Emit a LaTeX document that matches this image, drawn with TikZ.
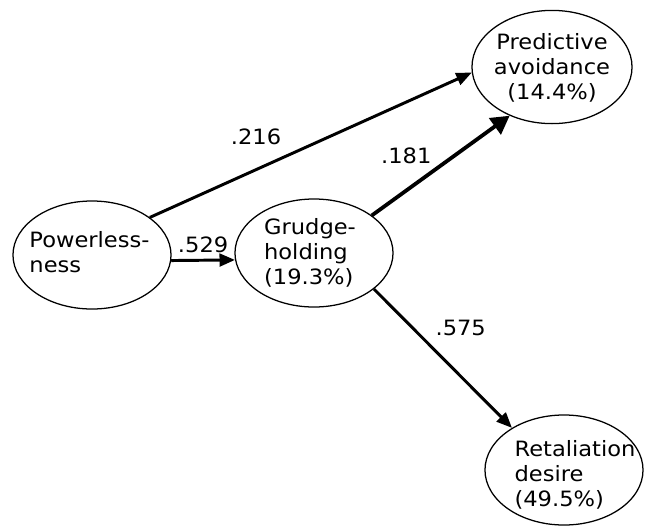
\documentclass[tikz,border=0pt]{standalone}
\usepackage{fontspec}
\setmainfont{DejaVu Sans}[FakeStretch=1.07]
\usetikzlibrary{shapes.geometric,arrows.meta}

\begin{document}
\begin{tikzpicture}[x=0.025cm, y=-0.025cm,
  every node/.style={font=\fontsize{15}{17.8}\selectfont},
  factor/.style={draw, ellipse, line width=0.9pt, inner sep=0pt, minimum width=3.95cm, minimum height=2.7cm},
  factortext/.style={inner sep=0pt, align=left},
  effect/.style={line width=2.1pt, -{Triangle[length=11pt,width=9pt]}},
  strongeffect/.style={line width=2.7pt, -{Triangle[length=13pt,width=14pt]}}]
\useasboundingbox (0,0) rectangle (645,527);
% factors
\node[factor] (powerless) at (92,255) {};
\node[factor] (grudge) at (314,253) {};
\node[factor, minimum width=4cm, minimum height=2.83cm] (predict) at (552,67) {};
\node[factor, minimum height=2.75cm] (retal) at (564,470) {};
\node[factortext] (powerlesstext) at (89.5,252.5) {Powerless-\\ness};
\node[factortext] (grudgetext) at (310,253) {Grudge-\\holding\\(19.3\%)};
\node[factortext, align=center] (predicttext) at (552,68) {Predictive\\avoidance\\(14.4\%)};
\node[factortext] (retaltext) at (575,475) {Retaliation\\desire\\(49.5\%)};
% paths
\draw[effect] (powerless.-4) -- node[midway, above=1pt] (b529) {.529} (grudge.185);
\draw[effect] (powerless.33) -- node[pos=0.33, above=13pt] (b216) {.216} (predict.184);
\draw[strongeffect] (grudge.33) -- node[pos=0.25, above=14pt] (b181) {.181} (predict.229);
\draw[effect] (grudge.329) -- node[pos=0.28, right=12pt] (b575) {.575} (retal.141);
\end{tikzpicture}
\end{document}
